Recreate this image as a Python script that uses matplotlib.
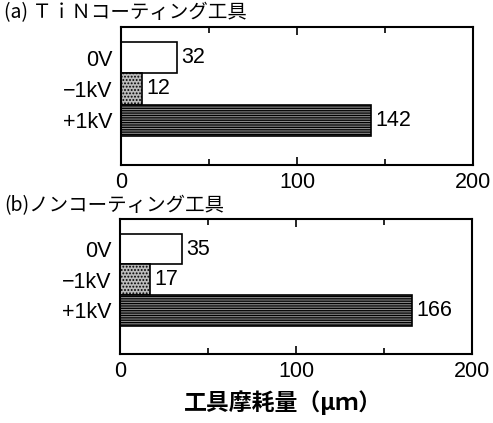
import matplotlib
matplotlib.use("Agg")
import matplotlib.pyplot as plt
from matplotlib.ticker import MultipleLocator

plt.rcParams['font.family'] = ['Liberation Sans', 'Noto Sans CJK JP', 'DejaVu Sans']
plt.rcParams['hatch.linewidth'] = 0.9

categories = ['0V', '−1kV', '+1kV']
tin_values = [32, 12, 142]
non_values = [35, 17, 166]
panel_titles = ['(a) ＴｉＮコーティング工具', '(b)ノンコーティング工具']
xticks_major = [0, 100, 200]
xlabel = '工具摩耗量（μｍ）'

faces = ['white', '#bbbbbb', '#8a8a8a']
hatches = [None, '.....', '-------']

FS = 15.5

fig = plt.figure(figsize=(4.93, 4.23), dpi=100)
ax_a = fig.add_axes([0.2454, 0.6099, 0.714, 0.3262])
ax_b = fig.add_axes([0.2434, 0.1631, 0.714, 0.3191])

for ax, vals, title, ytitle in [(ax_a, tin_values, panel_titles[0], 0.970),
                                (ax_b, non_values, panel_titles[1], 0.514)]:
    ypos = list(range(len(categories)))
    bars = ax.barh(ypos, vals, height=1.0, color=faces, edgecolor='black',
                   linewidth=1.2)
    for b, h in zip(bars, hatches):
        if h:
            b.set_hatch(h)
    ax.bar_label(bars, labels=[str(v) for v in vals], padding=3, fontsize=FS)
    ax.set_xlim(0, 200)
    ax.set_ylim(3.43, -0.98)
    ax.set_yticks(ypos)
    ax.set_yticklabels(categories, fontsize=FS)
    ax.tick_params(axis='y', length=0, pad=6)
    ax.set_xticks(xticks_major)
    ax.set_xticklabels([str(t) for t in xticks_major], fontsize=FS)
    ax.xaxis.set_minor_locator(MultipleLocator(50))
    ax.tick_params(axis='x', which='major', direction='in', top=True, bottom=True,
                   length=6, width=1.2, pad=5)
    ax.tick_params(axis='x', which='minor', direction='in', top=True, bottom=True,
                   length=4, width=1.2)
    for s in ax.spines.values():
        s.set_linewidth(1.5)
    fig.text(0.008, ytitle, title, fontsize=14, ha='left', va='center',
             family=['Noto Sans CJK JP', 'DejaVu Sans'])

fig.text(0.574, 0.047, xlabel, fontsize=16.5, ha='center', va='center',
         fontweight='bold', family=['Noto Sans CJK JP', 'DejaVu Sans'])

fig.savefig('out.png', dpi=100)
